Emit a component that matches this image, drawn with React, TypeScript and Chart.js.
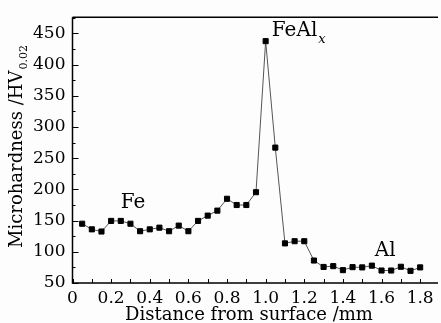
import React, { useEffect, useRef } from "react";
import { Chart, registerables } from "chart.js";

Chart.register(...registerables);

const distance = [
  0.05, 0.1, 0.15, 0.2, 0.25, 0.3, 0.35, 0.4, 0.45, 0.5, 0.55, 0.6, 0.65, 0.7, 0.75, 0.8, 0.85, 0.9,
  0.95, 1.0, 1.05, 1.1, 1.15, 1.2, 1.25, 1.3, 1.35, 1.4, 1.45, 1.5, 1.55, 1.6, 1.65, 1.7, 1.75, 1.8,
];
const hardness = [
  145, 136, 132.5, 149.5, 149.5, 145, 133, 136, 138.7, 133, 142, 133, 149.5, 158, 166, 185, 175, 175,
  195.5, 437.6, 267, 113.5, 117, 117, 86, 75.7, 77, 70.6, 75.4, 75, 77.8, 70, 70, 76, 69.5, 75,
];
const xTicks = [0, 0.1, 0.2, 0.3, 0.4, 0.5, 0.6, 0.7, 0.8, 0.9, 1.0, 1.1, 1.2, 1.3, 1.4, 1.5, 1.6, 1.7, 1.8];
const yTicks = [50, 100, 150, 200, 250, 300, 350, 400, 450];
const yMinorTicks = [75, 125, 175, 225, 275, 325, 375, 425, 475];

const FONT = "'DejaVu Serif', serif";

const overlay = {
  id: "overlay",
  afterDraw(chart: any) {
    const ctx = chart.ctx;
    const { left, right, top, bottom } = chart.chartArea;
    const xs = chart.scales.x;
    const ys = chart.scales.y;
    ctx.save();
    ctx.strokeStyle = "#000";
    ctx.lineWidth = 1.5;
    ctx.beginPath();
    ctx.moveTo(left, top);
    ctx.lineTo(right + 2, top);
    ctx.moveTo(left, top);
    ctx.lineTo(left, bottom);
    ctx.lineTo(right + 2, bottom);
    ctx.stroke();
    ctx.lineWidth = 1;
    ctx.beginPath();
    for (const v of xTicks) {
      const px = Math.round(xs.getPixelForValue(v)) + 0.5;
      ctx.moveTo(px, bottom);
      ctx.lineTo(px, bottom - 4);
    }
    for (const v of yTicks) {
      const py = Math.round(ys.getPixelForValue(v)) + 0.5;
      ctx.moveTo(left, py);
      ctx.lineTo(left + 6, py);
    }
    for (const v of yMinorTicks) {
      const py = Math.round(ys.getPixelForValue(v)) + 0.5;
      ctx.moveTo(left, py);
      ctx.lineTo(left + 3, py);
    }
    ctx.stroke();

    ctx.fillStyle = "#000";
    ctx.textBaseline = "middle";
    ctx.textAlign = "left";
    // annotations
    ctx.font = `20px ${FONT}`;
    ctx.fillText("Fe", xs.getPixelForValue(0.25), ys.getPixelForValue(179));
    const fx = xs.getPixelForValue(1.032);
    const fy = ys.getPixelForValue(455);
    ctx.fillText("FeAl", fx, fy);
    const fw = ctx.measureText("FeAl").width;
    ctx.font = `italic 13px ${FONT}`;
    ctx.fillText("x", fx + fw + 1, fy + 9);
    ctx.font = `20px ${FONT}`;
    ctx.fillText("Al", xs.getPixelForValue(1.565), ys.getPixelForValue(102));

    // x title
    ctx.font = `18px ${FONT}`;
    ctx.textAlign = "center";
    ctx.fillText("Distance from surface /mm", 249, 315);

    // y title
    ctx.translate(17, 147);
    ctx.rotate(-Math.PI / 2);
    ctx.font = `18px ${FONT}`;
    const main = "Microhardness /HV";
    const w1 = ctx.measureText(main).width;
    ctx.font = `11px ${FONT}`;
    const w2 = ctx.measureText("0.02").width;
    const start = -(w1 + w2) / 2;
    ctx.textAlign = "left";
    ctx.font = `18px ${FONT}`;
    ctx.fillText(main, start, 0);
    ctx.font = `11px ${FONT}`;
    ctx.fillText("0.02", start + w1 + 1, 7);
    ctx.restore();
  },
};

export default function App() {
  const ref = useRef<HTMLCanvasElement>(null);
  useEffect(() => {
    document.body.style.margin = "0";
    const chart = new Chart(ref.current!, {
      type: "line",
      data: {
        datasets: [
          {
            data: distance.map((x, i) => ({ x, y: hardness[i] })),
            borderColor: "#555",
            borderWidth: 1,
            pointStyle: "rect",
            pointRadius: 3.6,
            pointBorderWidth: 1,
            pointBackgroundColor: "#000",
            pointBorderColor: "#000",
            tension: 0,
          },
        ],
      },
      options: {
        animation: false,
        responsive: false,
        layout: { padding: { top: 8, right: 0, left: 0, bottom: 0 } },
        plugins: { legend: { display: false }, tooltip: { enabled: false } },
        scales: {
          x: {
            type: "linear",
            min: 0,
            max: 1.882,
            afterBuildTicks: (s: any) => {
              s.ticks = xTicks.map((v) => ({ value: v }));
            },
            afterFit: (s: any) => {
              s.height = 40;
            },
            grid: { display: false, drawTicks: false },
            border: { display: false },
            ticks: {
              color: "#000",
              font: { family: FONT, size: 17 },
              padding: 5,
              maxRotation: 0,
              autoSkip: false,
              callback: (v: any) => {
                const n = Math.round(Number(v) * 10);
                if (n % 2 !== 0) return "";
                return n === 0 ? "0" : (n / 10).toFixed(1);
              },
            },
          },
          y: {
            min: 50,
            max: 476,
            afterBuildTicks: (s: any) => {
              s.ticks = yTicks.map((v) => ({ value: v }));
            },
            afterFit: (s: any) => {
              s.width = 72.5;
            },
            grid: { display: false, drawTicks: false },
            border: { display: false },
            ticks: {
              color: "#000",
              font: { family: FONT, size: 17 },
              padding: 7,
            },
          },
        },
      },
      plugins: [overlay],
    });
    return () => chart.destroy();
  }, []);
  return (
    <div style={{ width: 441, height: 323, background: "#fdfdfd" }}>
      <canvas ref={ref} width={441} height={323} style={{ display: "block" }} />
    </div>
  );
}
